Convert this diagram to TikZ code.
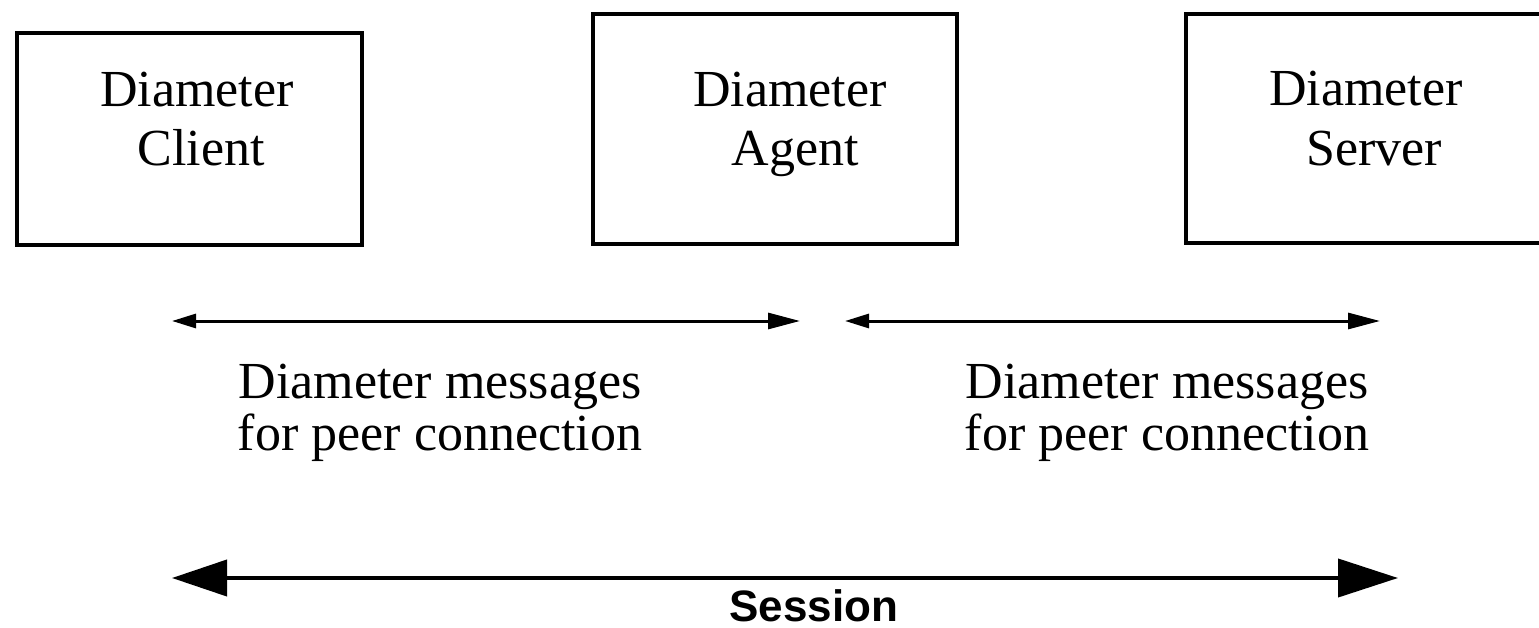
\documentclass[tikz,border=0pt]{standalone}
\usepackage{fontspec}
\setmainfont{Liberation Serif}
\newfontfamily\sessfont{Liberation Sans}
\usetikzlibrary{arrows.meta}
\begin{document}
\begin{tikzpicture}[x=1pt,y=-1pt,
  box/.style={draw, line width=4pt, inner sep=0pt, fill=white},
  lbl/.style={anchor=base, inner sep=0pt, font=\fontsize{52}{59}\selectfont},
  peer/.style={line width=3pt, {Triangle[length=24pt,width=14pt]}-{Triangle[length=32pt,width=16pt]}},
  sess/.style={line width=4pt, {Triangle[length=55pt,width=36pt]}-{Triangle[length=60pt,width=38pt]}},
  sesslbl/.style={anchor=base, inner sep=0pt, font=\sessfont\bfseries\fontsize{44}{50}\selectfont}]
\useasboundingbox (0,0) rectangle (1539,628);
\clip (0,0) rectangle (1539,628);
\fill[white] (0,0) rectangle (1539,628);
% boxes
\node[box, minimum width=345pt, minimum height=212pt] (client) at (189.5,139) {};
\node[box, minimum width=364pt, minimum height=230pt] (agent) at (775,129) {};
\node[box, minimum width=374pt, minimum height=229pt] (server) at (1373,128.5) {};
% box labels
\node[lbl] (c1) at (197,107) {Diameter};
\node[lbl] (c2) at (201,166) {Client};
\node[lbl] (a1) at (790,107) {Diameter};
\node[lbl] (a2) at (795,166) {Agent};
\node[lbl] (s1) at (1366,106) {Diameter};
\node[lbl] (s2) at (1374,166) {Server};
% peer arrows
\coordinate (p1l) at (172,321);
\coordinate (p1r) at (800,321);
\coordinate (p2l) at (845,321);
\coordinate (p2r) at (1380,321);
\draw[peer] (p1l) -- (p1r);
\draw[peer] (p2l) -- (p2r);
% peer labels
\node[lbl] (m1) at (440,398) {Diameter messages};
\node[lbl] (m2) at (440,450) {for peer connection};
\node[lbl] (n1) at (1167,398) {Diameter messages};
\node[lbl] (n2) at (1167,450) {for peer connection};
% session
\coordinate (sl) at (172,578);
\coordinate (sr) at (1398,578);
\draw[sess] (sl) -- (sr);
\node[sesslbl] (session) at (814,621) {Session};
\end{tikzpicture}
\end{document}
